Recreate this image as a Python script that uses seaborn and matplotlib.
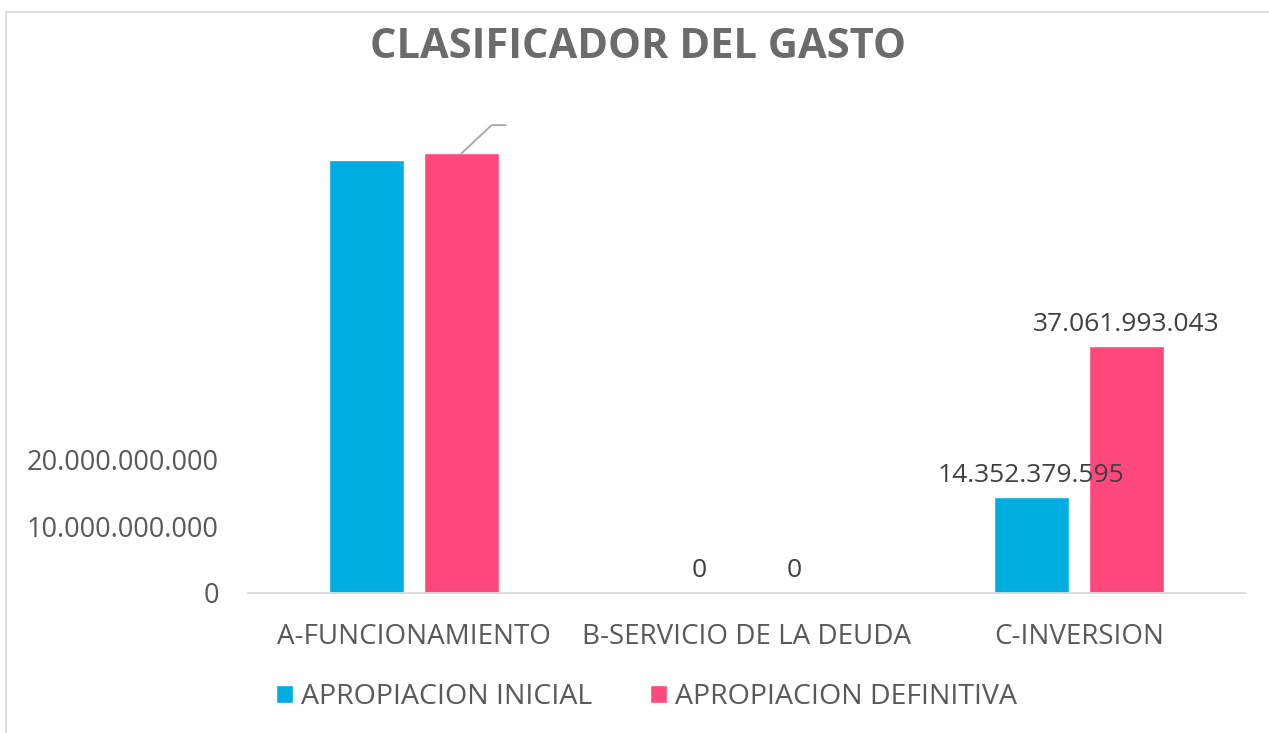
import matplotlib
matplotlib.use("Agg")
import matplotlib.pyplot as plt
import seaborn as sns
import pandas as pd
from matplotlib.lines import Line2D
from matplotlib.patches import Rectangle

categories = ["A-FUNCIONAMIENTO", "B-SERVICIO DE LA DEUDA", "C-INVERSION"]
series_names = ["APROPIACION INICIAL", "APROPIACION DEFINITIVA"]
inicial = [65.0e9, 0, 14352379595]
definitiva = [66.1e9, 0, 37061993043]
ytick_vals = [0, 10e9, 20e9]
ytick_labels = ["0", "10.000.000.000", "20.000.000.000"]
colors = ["#00ADE1", "#FF497C"]

df = pd.DataFrame({
    "cat": categories * 2,
    "serie": [series_names[0]] * 3 + [series_names[1]] * 3,
    "valor": inicial + definitiva,
})

sns.set_theme(style="white")
plt.rcParams["font.family"] = ["Open Sans", "DejaVu Sans"]

W, H = 1269, 733
fig = plt.figure(figsize=(W / 100, H / 100), dpi=100)
ax = fig.add_axes([248 / W, 1 - 592.7 / H, (1245 - 248) / W, (592.7 - 100) / H])

sns.barplot(data=df, x="cat", y="valor", hue="serie", order=categories,
            hue_order=series_names, palette=colors, width=0.572, gap=0.21,
            saturation=1, ax=ax, legend=True)

ax.set_xlim(-0.5, 2.5)
ax.set_ylim(0, (592.7 - 100) / 6.65 * 1e9)
ax.set_xlabel("")
ax.set_ylabel("")
ax.set_yticks(ytick_vals)
ax.set_yticklabels(ytick_labels)
for s in ["top", "right", "left"]:
    ax.spines[s].set_visible(False)
ax.spines["bottom"].set_color("#D9D9D9")
ax.spines["bottom"].set_linewidth(1.3)
ax.tick_params(axis="y", length=0, pad=21, labelsize=19.5, labelcolor="#595959")
ax.tick_params(axis="x", length=0, pad=22, labelsize=20, labelcolor="#595959")

def fmt(v):
    return f"{v:,.0f}".replace(",", ".")

for i, cont in enumerate(ax.containers):
    vals = inicial if i == 0 else definitiva
    labels = ["" if j == 0 else fmt(v) for j, v in enumerate(vals)]
    ax.bar_label(cont, labels=labels, padding=7, fontsize=19, color="#404040")

# leader line of the displaced label on A-definitiva
fig.canvas.draw()
bar = ax.containers[1][0]
x0 = bar.get_x() + bar.get_width() / 2
y0 = bar.get_height()
px, py = ax.transData.transform((x0, y0))
line = Line2D([px, px + 30, px + 44], [py, py + 28, py + 28], transform=None,
              color="#A6A6A6", lw=1.3)
fig.add_artist(line)

handles, labs = ax.get_legend_handles_labels()
ax.legend(handles, labs, loc="center", bbox_to_anchor=(646.5 / W, 1 - 697 / H),
          bbox_transform=fig.transFigure, ncol=2, frameon=False, fontsize=20.5,
          labelcolor="#595959", handlelength=0.6, handleheight=0.6,
          handletextpad=0.3, columnspacing=2.0)

fig.text(0.503, 1 - 47 / H, "CLASIFICADOR DEL GASTO", ha="center", va="center",
         fontsize=30, fontweight="bold", color="#6B6B6B")

fig.add_artist(Rectangle((6.5 / W, -0.1), 1.2, 1.1 - 12 / H, transform=fig.transFigure,
                         fill=False, edgecolor="#D9D9D9", lw=1.3, clip_on=False))

fig.savefig("out.png", dpi=100)
